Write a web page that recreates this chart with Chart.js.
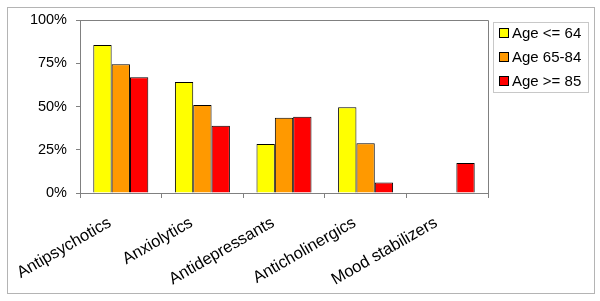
<!DOCTYPE html>
<html>
<head>
<meta charset="utf-8">
<script src="https://cdn.jsdelivr.net/npm/chart.js@4/dist/chart.umd.min.js"></script>
<style>
  html, body { margin: 0; padding: 0; background: #fff; }
  #wrap { position: relative; width: 600px; height: 301px; }
</style>
</head>
<body>
<div id="wrap"><canvas id="chart_drugUseByAge"></canvas></div>
<script>
// drug classes on the category axis
var categories = ['Antipsychotics', 'Anxiolytics', 'Antidepressants', 'Anticholinergics', 'Mood stabilizers'];
var seriesNames = ['Age <= 64', 'Age 65-84', 'Age >= 85'];
// percentage of patients
var ageUpTo64 = [85.5, 64.2, 28.3, 49.5, 0];
var age65to84 = [74.4, 50.9, 43.5, 28.7, 0];
var age85plus = [66.9, 38.9, 44.1, 6.0, 17.3];
var yTicks = [0, 25, 50, 75, 100];

var barColors = ['#FFFF00', '#FF9900', '#FF0000'];
var fontFamily = "Arial, 'Liberation Sans', sans-serif";
var axisGray = '#808080';

var chart_drugUseByAge = new Chart(document.getElementById('chart_drugUseByAge'), {
    type: 'bar',
    data: {
        labels: categories,
        datasets: [
            {
                label: seriesNames[0],
                data: ageUpTo64,
                backgroundColor: barColors[0],
                borderColor: '#000',
                borderWidth: 1
            },
            {
                label: seriesNames[1],
                data: age65to84,
                backgroundColor: barColors[1],
                borderColor: '#000',
                borderWidth: 1
            },
            {
                label: seriesNames[2],
                data: age85plus,
                backgroundColor: barColors[2],
                borderColor: '#000',
                borderWidth: 1
            }
        ]
    },
    options: {
        animation: false,
        responsive: true,
        maintainAspectRatio: false,
        datasets: {
            bar: {
                categoryPercentage: 0.674,
                barPercentage: 1
            }
        },
        layout: {
            padding: { left: 0, top: 20, right: 112, bottom: 0 }
        },
        plugins: {
            legend: { display: false },
            tooltip: { enabled: false }
        },
        scales: {
            x: {
                grid: {
                    offset: true,
                    drawOnChartArea: false,
                    drawTicks: true,
                    tickLength: 5,
                    color: axisGray
                },
                border: { color: axisGray, width: 1 },
                ticks: {
                    autoSkip: false,
                    minRotation: 30,
                    maxRotation: 30,
                    labelOffset: -11,
                    padding: 15,
                    color: '#000',
                    font: { family: fontFamily, size: 16.5 }
                },
                afterFit: function (scale) { scale.height = 108; }
            },
            y: {
                min: 0,
                max: 100,
                afterBuildTicks: function (scale) {
                    scale.ticks = yTicks.map(function (v) { return { value: v }; });
                },
                grid: {
                    drawOnChartArea: false,
                    drawTicks: true,
                    tickLength: 4,
                    color: axisGray
                },
                border: { color: axisGray, width: 1 },
                ticks: {
                    padding: 9,
                    color: '#000',
                    font: { family: fontFamily, size: 14.5 },
                    callback: function (v) { return v + '%'; }
                },
                afterFit: function (scale) { scale.width = 80; }
            }
        }
    },
    plugins: [{
        id: 'frameAndLegend',
        beforeDraw: (chart) => {
            const ctx = chart.ctx;
            ctx.save();
            ctx.fillStyle = 'white';
            ctx.fillRect(0, 0, chart.width, chart.height);
            // outer border of the figure
            ctx.strokeStyle = '#b4b4b4';
            ctx.lineWidth = 1;
            ctx.strokeRect(7.5, 7.5, 587, 286);
            ctx.restore();
        },
        afterDraw: (chart) => {
            const ctx = chart.ctx;
            const a = chart.chartArea;
            ctx.save();
            // top and right edges of the plot area
            ctx.strokeStyle = axisGray;
            ctx.lineWidth = 1;
            ctx.beginPath();
            ctx.moveTo(a.left, Math.round(a.top) + 0.5);
            ctx.lineTo(Math.round(a.right) + 0.5, Math.round(a.top) + 0.5);
            ctx.lineTo(Math.round(a.right) + 0.5, a.bottom);
            ctx.stroke();

            // legend box
            ctx.strokeStyle = '#c8c8c8';
            ctx.strokeRect(493.5, 22.5, 95, 70);
            ctx.font = '15px ' + fontFamily;
            ctx.textBaseline = 'middle';
            ctx.textAlign = 'left';
            chart.data.datasets.forEach((ds, i) => {
                const cy = 33 + i * 24;
                ctx.fillStyle = ds.backgroundColor;
                ctx.fillRect(499.5, cy - 4.5, 9, 9);
                ctx.strokeStyle = '#000';
                ctx.strokeRect(499.5, cy - 4.5, 9, 9);
                ctx.fillStyle = '#000';
                ctx.fillText(ds.label, 512, cy + 1);
            });
            ctx.restore();
        }
    }]
});
</script>
</body>
</html>
